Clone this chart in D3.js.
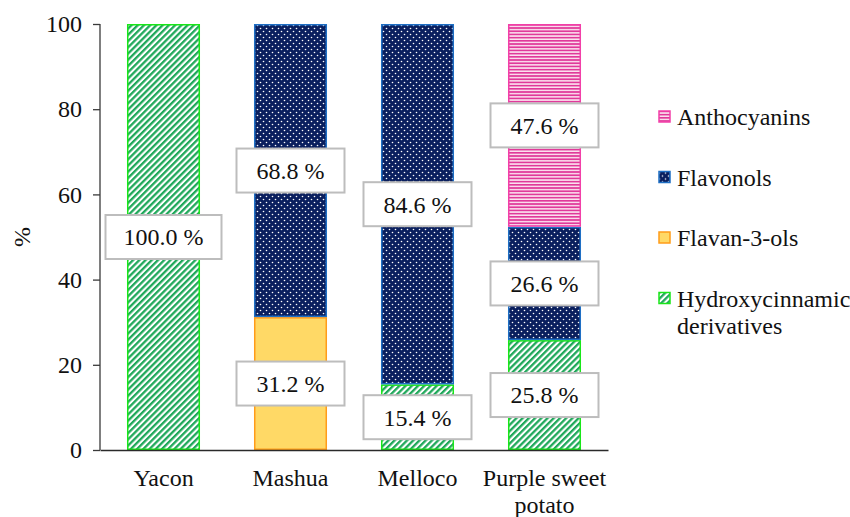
<!DOCTYPE html>
<html>
<head>
<meta charset="utf-8">
<script src="https://cdn.jsdelivr.net/npm/d3@7"></script>
<style>
  body { margin: 0; background: #fff; }
  #chart text { font-family: Liberation Serif, Times New Roman, Times, DejaVu Serif, serif !important; }
</style>
</head>
<body>
<svg id="chart" width="850" height="517"></svg>
<script>
// ---- data ----
var categories = ["Yacon", "Mashua", "Melloco", "Purple sweet potato"];
var seriesNames = ["Hydroxycinnamic derivatives", "Flavan-3-ols", "Flavonols", "Anthocyanins"];
var hydroxycinnamic = [100.0, 0, 15.4, 25.8];
var flavan3ols = [0, 31.2, 0, 0];
var flavonols = [0, 68.8, 84.6, 26.6];
var anthocyanins = [0, 0, 0, 47.6];
var yTicks = [0, 20, 40, 60, 80, 100];
var legendOrder = ["Anthocyanins", "Flavonols", "Flavan-3-ols", "Hydroxycinnamic derivatives"];

var seriesValues = [hydroxycinnamic, flavan3ols, flavonols, anthocyanins];

// build table for d3.stack
var table = categories.map(function (c, i) {
    var row = { cat: c };
    seriesNames.forEach(function (s, j) { row[s] = seriesValues[j][i]; });
    return row;
});

var svg = d3.select("#chart");
var margin = { left: 100, right: 242, top: 24, bottom: 67 };
var width = 850 - margin.left - margin.right;
var height = 517 - margin.top - margin.bottom;

// ---- patterns ----
var defs = svg.append("defs");

var pH = defs.append("pattern").attr("id", "pat-hydro")
    .attr("patternUnits", "userSpaceOnUse").attr("width", 4.4).attr("height", 4.4)
    .attr("patternTransform", "rotate(45)");
pH.append("rect").attr("width", 4.4).attr("height", 4.4).attr("fill", "#ffffff");
pH.append("rect").attr("width", 2.3).attr("height", 4.4).attr("fill", "#1fa85a");

var pF = defs.append("pattern").attr("id", "pat-flavonol")
    .attr("patternUnits", "userSpaceOnUse").attr("width", 6).attr("height", 6);
pF.append("rect").attr("width", 6).attr("height", 6).attr("fill", "#0a1f5e");
pF.append("circle").attr("cx", 1.5).attr("cy", 1.5).attr("r", 0.8).attr("fill", "#ffffff");
pF.append("circle").attr("cx", 4.5).attr("cy", 4.5).attr("r", 0.8).attr("fill", "#ffffff");

var pA = defs.append("pattern").attr("id", "pat-antho")
    .attr("patternUnits", "userSpaceOnUse").attr("width", 4).attr("height", 3.2);
pA.append("rect").attr("width", 4).attr("height", 3.2).attr("fill", "#fbe3ef");
pA.append("rect").attr("width", 4).attr("height", 1.7).attr("fill", "#e0399a");

var fills = {
    "Hydroxycinnamic derivatives": "url(#pat-hydro)",
    "Flavan-3-ols": "#ffd966",
    "Flavonols": "url(#pat-flavonol)",
    "Anthocyanins": "url(#pat-antho)"
};
var strokes = {
    "Hydroxycinnamic derivatives": "#19e619",
    "Flavan-3-ols": "#ff9c1a",
    "Flavonols": "#1f6fc4",
    "Anthocyanins": "#f23fa8"
};

var g = svg.append("g").attr("transform", "translate(" + margin.left + "," + margin.top + ")");

// ---- scales ----
var x = d3.scaleBand().domain(categories).range([0, width]).paddingInner(0.425).paddingOuter(0.2125);
var y = d3.scaleLinear().domain([0, 100]).range([height, 0]);

var stacked = d3.stack().keys(seriesNames)(table);

// ---- bars ----
var layers = g.selectAll("g.layer").data(stacked).enter().append("g").attr("class", "layer");
layers.selectAll("rect")
    .data(function (d) { return d.map(function (v) { return { key: d.key, v: v }; }); })
    .enter().filter(function (d) { return d.v[1] - d.v[0] > 0; })
    .append("rect")
    .attr("x", function (d) { return x(d.v.data.cat) + 0.75; })
    .attr("width", x.bandwidth() - 1.5)
    .attr("y", function (d) { return y(d.v[1]) + 0.75; })
    .attr("height", function (d) { return y(d.v[0]) - y(d.v[1]) - 1.5; })
    .attr("fill", function (d) { return fills[d.key]; })
    .attr("stroke", function (d) { return strokes[d.key]; })
    .attr("stroke-width", 1.5);

// ---- axes ----
var yAxis = g.append("g").call(d3.axisLeft(y).tickValues(yTicks).tickSize(7).tickPadding(11));
yAxis.attr("font-family", null);
yAxis.select(".domain").attr("stroke", "#3a3a3a").attr("stroke-width", 1.3).attr("d", "M0,0V" + height);
yAxis.selectAll(".tick line").attr("stroke", "#3a3a3a").attr("stroke-width", 1.3);
yAxis.selectAll(".tick text").attr("font-size", 24).attr("fill", "#111");

var xAxis = g.append("g").attr("transform", "translate(0," + height + ")")
    .call(d3.axisBottom(x).tickSize(0).tickPadding(19));
xAxis.attr("font-family", null);
xAxis.select(".domain").attr("stroke", "#2a2a2a").attr("stroke-width", 1.6);
xAxis.selectAll(".tick text").attr("font-size", 24).attr("fill", "#111")
    .each(function (d) {
        var t = d3.select(this);
        if (d === "Purple sweet potato") {
            t.text(null);
            t.append("tspan").attr("x", 0).attr("dy", "0.71em").text("Purple sweet");
            t.append("tspan").attr("x", 0).attr("dy", "1.12em").text("potato");
        }
    });

// y title
svg.append("text")
    .attr("transform", "translate(30," + (margin.top + y(50)) + ") rotate(-90)")
    .attr("text-anchor", "middle")
    .attr("font-size", 24).attr("fill", "#111")
    .text("%");

// ---- data labels ----
var labelData = [];
stacked.forEach(function (layer) {
    layer.forEach(function (v) {
        var val = v[1] - v[0];
        if (val > 0) labelData.push({ cat: v.data.cat, mid: (v[0] + v[1]) / 2, val: val });
    });
});
var labels = g.selectAll("g.lbl").data(labelData).enter().append("g").attr("class", "lbl")
    .attr("transform", function (d) {
        return "translate(" + (x(d.cat) + x.bandwidth() / 2) + "," + y(d.mid) + ")";
    });
labels.append("rect")
    .attr("x", function (d) { return d.val >= 100 ? -58 : -54; })
    .attr("width", function (d) { return d.val >= 100 ? 116 : 108; })
    .attr("y", -22).attr("height", 44)
    .attr("fill", "#ffffff").attr("stroke", "#bdbdbd").attr("stroke-width", 2);
labels.append("text")
    .attr("text-anchor", "middle").attr("dy", "0.35em")
    .attr("font-size", 24).attr("fill", "#111")
    .text(function (d) { return d.val.toFixed(1) + " %"; });

// ---- legend ----
var legend = svg.append("g").attr("transform", "translate(658,117)");
var items = legend.selectAll("g").data(legendOrder).enter().append("g")
    .attr("transform", function (d, i) { return "translate(0," + i * 60.5 + ")"; });
items.append("rect").attr("x", 1).attr("y", -6).attr("width", 11).attr("height", 11)
    .attr("fill", function (d) { return fills[d]; })
    .attr("stroke", function (d) { return strokes[d]; }).attr("stroke-width", 1.5);
items.append("text").attr("x", 19).attr("dy", "0.35em")
    .attr("font-size", 24).attr("fill", "#111")
    .each(function (d) {
        var t = d3.select(this);
        if (d === "Hydroxycinnamic derivatives") {
            t.append("tspan").attr("x", 19).text("Hydroxycinnamic");
            t.append("tspan").attr("x", 19).attr("dy", "1.12em").text("derivatives");
        } else {
            t.text(d);
        }
    });
</script>
</body>
</html>
